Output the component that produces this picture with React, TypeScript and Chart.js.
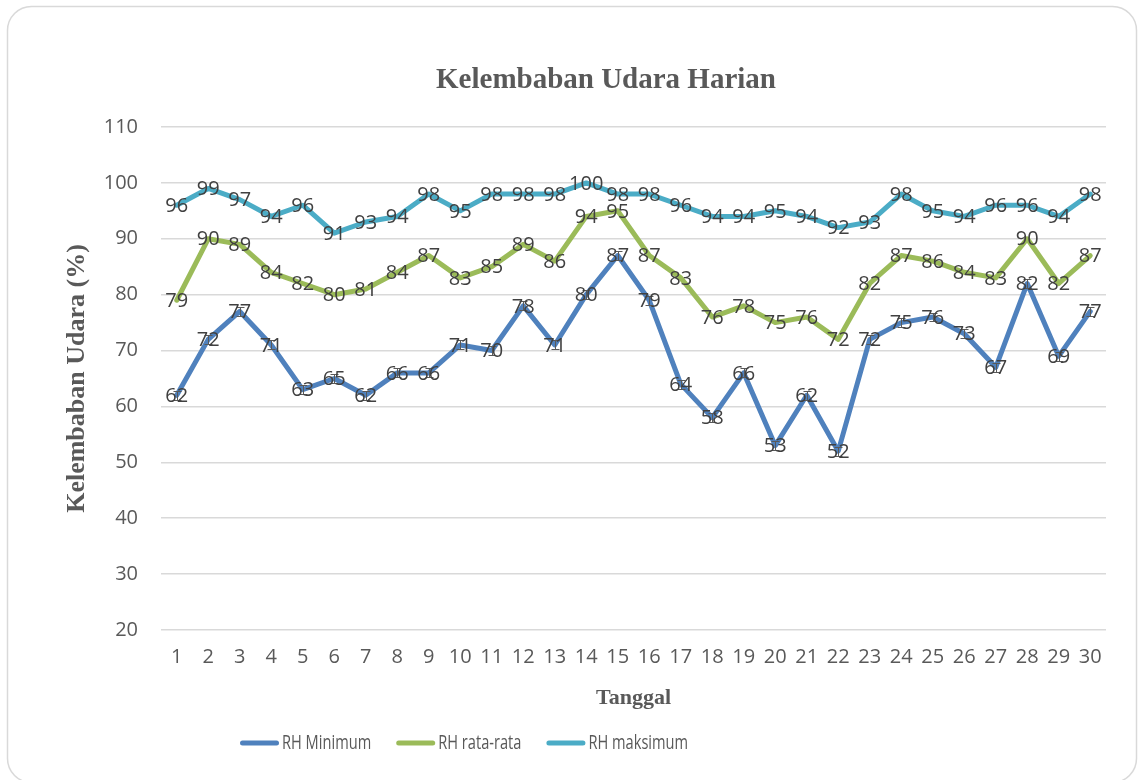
import React, { useEffect, useRef } from "react";
import { Chart, registerables } from "chart.js";

Chart.register(...registerables);

const chartTitle = "Kelembaban Udara Harian";
const xTitle = "Tanggal";
const yTitle = "Kelembaban Udara (%)";

const tanggal = [
  "1", "2", "3", "4", "5", "6", "7", "8", "9", "10",
  "11", "12", "13", "14", "15", "16", "17", "18", "19", "20",
  "21", "22", "23", "24", "25", "26", "27", "28", "29", "30",
];

const rhMinimum = [62, 72, 77, 71, 63, 65, 62, 66, 66, 71, 70, 78, 71, 80, 87, 79, 64, 58, 66, 53, 62, 52, 72, 75, 76, 73, 67, 82, 69, 77];
const rhRataRata = [79, 90, 89, 84, 82, 80, 81, 84, 87, 83, 85, 89, 86, 94, 95, 87, 83, 76, 78, 75, 76, 72, 82, 87, 86, 84, 83, 90, 82, 87];
const rhMaksimum = [96, 99, 97, 94, 96, 91, 93, 94, 98, 95, 98, 98, 98, 100, 98, 98, 96, 94, 94, 95, 94, 92, 93, 98, 95, 94, 96, 96, 94, 98];
const rhMinimumError = 0.8;

const seriesNames = ["RH Minimum", "RH rata-rata", "RH maksimum"];
const seriesColors = ["#4F81BD", "#9BBB59", "#4BACC6"];

const yMin = 20;
const yMax = 110;
const yStep = 10;

const TICK_FONT = "'Open Sans', 'Noto Sans', sans-serif";
const SERIF = "'Liberation Serif', 'Times New Roman', serif";
const LEGEND_FONT = "19px 'Open Sans', 'Noto Sans', sans-serif";
const LEGEND_SQUEEZE = 0.77;

const decorPlugin = {
  id: "decor",
  beforeDraw(chart: any) {
    const ctx = chart.ctx;
    ctx.save();
    ctx.fillStyle = "#ffffff";
    ctx.fillRect(0, 0, chart.width, chart.height);
    ctx.beginPath();
    ctx.roundRect(7.5, 6.5, 1129, 776, 24);
    ctx.strokeStyle = "#D9D9D9";
    ctx.lineWidth = 1.5;
    ctx.stroke();
    ctx.font = `bold 29px ${SERIF}`;
    ctx.fillStyle = "#595959";
    ctx.textAlign = "center";
    ctx.textBaseline = "alphabetic";
    ctx.fillText(chartTitle, 606, 88);
    ctx.restore();
  },
  afterDatasetsDraw(chart: any) {
    const ctx = chart.ctx;
    const yScale = chart.scales.y;
    ctx.save();
    // error bars on minimum series
    const meta0 = chart.getDatasetMeta(0);
    ctx.strokeStyle = "#595959";
    ctx.lineWidth = 1;
    meta0.data.forEach((pt: any, i: number) => {
      const v = rhMinimum[i];
      const t = Math.round(yScale.getPixelForValue(v + rhMinimumError)) + 0.5;
      const b = Math.round(yScale.getPixelForValue(v - rhMinimumError)) + 0.5;
      const x = Math.round(pt.x) + 0.5;
      ctx.beginPath();
      ctx.moveTo(x, t);
      ctx.lineTo(x, b);
      ctx.moveTo(x - 4, t);
      ctx.lineTo(x + 4, t);
      ctx.moveTo(x - 4, b);
      ctx.lineTo(x + 4, b);
      ctx.stroke();
    });
    // data labels
    ctx.font = `20px ${TICK_FONT}`;
    ctx.fillStyle = "#404040";
    ctx.textAlign = "center";
    ctx.textBaseline = "middle";
    chart.data.datasets.forEach((ds: any, di: number) => {
      const meta = chart.getDatasetMeta(di);
      meta.data.forEach((pt: any, i: number) => {
        ctx.fillText(String(ds.data[i]), pt.x, pt.y + 1);
      });
    });
    ctx.restore();
  },
  afterDraw(chart: any) {
    const ctx = chart.ctx;
    ctx.save();
    ctx.font = LEGEND_FONT;
    ctx.textBaseline = "middle";
    ctx.textAlign = "left";
    let x = 240;
    const y = 743;
    seriesNames.forEach((name, i) => {
      ctx.strokeStyle = seriesColors[i];
      ctx.lineWidth = 5;
      ctx.lineCap = "round";
      ctx.beginPath();
      ctx.moveTo(x + 2.5, y);
      ctx.lineTo(x + 36.5, y);
      ctx.stroke();
      ctx.fillStyle = "#595959";
      const tx = x + 42;
      ctx.save();
      ctx.translate(tx, y);
      ctx.scale(LEGEND_SQUEEZE, 1.08);
      ctx.fillText(name, 0, 0);
      ctx.restore();
      x = tx + ctx.measureText(name).width * LEGEND_SQUEEZE + 25;
    });
    ctx.restore();
  },
};

export default function App() {
  const canvasRef = useRef<HTMLCanvasElement | null>(null);

  useEffect(() => {
    const canvas = canvasRef.current;
    if (!canvas) return;
    const datasets = [rhMinimum, rhRataRata, rhMaksimum].map((data, i) => ({
      label: seriesNames[i],
      data,
      borderColor: seriesColors[i],
      backgroundColor: seriesColors[i],
      borderWidth: 5,
      pointRadius: 0,
      pointHoverRadius: 0,
      tension: 0,
      borderJoinStyle: "round" as const,
      borderCapStyle: "round" as const,
      fill: false,
    }));
    const chart = new Chart(canvas, {
      type: "line",
      data: { labels: tanggal, datasets },
      plugins: [decorPlugin],
      options: {
        responsive: false,
        animation: false,
        events: [],
        layout: { padding: { top: 127, right: 32, bottom: 56, left: 0 } },
        plugins: {
          legend: { display: false },
          title: { display: false },
          tooltip: { enabled: false },
        },
        scales: {
          x: {
            offset: true,
            grid: { display: false, drawTicks: false },
            border: { display: false },
            ticks: {
              color: "#595959",
              font: { family: TICK_FONT, size: 20 },
              padding: 15,
              maxRotation: 0,
              autoSkip: false,
            },
            title: {
              display: true,
              text: xTitle,
              color: "#595959",
              font: { family: SERIF, size: 22, weight: "bold" },
              padding: { top: 0, bottom: 12 },
            },
            afterFit: (scale: any) => {
              scale.height = 94;
            },
          },
          y: {
            min: yMin,
            max: yMax,
            grid: { color: "#D9D9D9", lineWidth: 1.5, drawTicks: false },
            border: { display: false },
            ticks: {
              stepSize: yStep,
              color: "#595959",
              font: { family: TICK_FONT, size: 20 },
              padding: 23,
            },
            title: {
              display: true,
              text: yTitle,
              color: "#595959",
              font: { family: SERIF, size: 26, weight: "bold" },
              padding: { top: 62, bottom: 0 },
            },
            afterFit: (scale: any) => {
              scale.width = 161;
            },
          },
        },
      },
    });
    return () => chart.destroy();
  }, []);

  return (
    <div style={{ position: "absolute", left: 0, top: 0, width: 1138, height: 780, background: "#fff" }}>
      <canvas ref={canvasRef} width={1138} height={780} style={{ display: "block", width: 1138, height: 780 }} />
    </div>
  );
}
